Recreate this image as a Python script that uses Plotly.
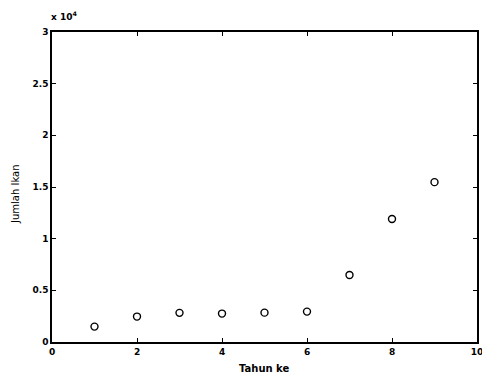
import plotly.graph_objects as go

tahun = [1, 2, 3, 4, 5, 6, 7, 8, 9]
jumlah_ikan = [1490, 2460, 2820, 2750, 2840, 2940, 6480, 11910, 15470]

x_ticks = [0, 2, 4, 6, 8, 10]
y_tickvals = [0, 5000, 10000, 15000, 20000, 25000, 30000]
y_ticktext = ["0", "0.5", "1", "1.5", "2", "2.5", "3"]

FAM = "DejaVu Sans, Liberation Sans, sans-serif"
font = dict(family=FAM, size=9, color="black")

fig = go.Figure()
fig.add_trace(go.Scatter(
    x=tahun, y=jumlah_ikan, mode="markers",
    marker=dict(symbol="circle-open", size=7, color="black", line=dict(width=1.4)),
    showlegend=False,
))

axis_common = dict(
    showline=True, linecolor="black", linewidth=1.5, mirror="ticks",
    ticks="inside", ticklen=4, tickcolor="black", tickwidth=1,
    showgrid=False, zeroline=False, tickfont=font, ticklabeloverflow="allow",
    automargin=False,
)

fig.update_xaxes(range=[0, 10], tickvals=x_ticks,
                 ticktext=["<b>%s</b>" % v for v in x_ticks], **axis_common)
fig.update_yaxes(range=[0, 30000], tickvals=y_tickvals,
                 ticktext=["<b>%s</b>" % t for t in y_ticktext], **axis_common)

fig.add_annotation(xref="paper", yref="paper", x=0.5, y=0, xanchor="center", yanchor="middle",
                   yshift=-26, text="<b>Tahun ke</b>", showarrow=False,
                   font=dict(family=FAM, size=10, color="black"))
fig.add_annotation(xref="paper", yref="paper", x=0, y=0.5, xanchor="center", yanchor="middle",
                   xshift=-37, yshift=-8, textangle=-90, text="Jumlah Ikan", showarrow=False,
                   font=dict(family=FAM, size=10, color="black"))
fig.add_annotation(xref="paper", yref="paper", x=0, y=1, xanchor="left", yanchor="bottom",
                   xshift=-3, yshift=8, text="<b>x 10<sup>4</sup></b>", showarrow=False,
                   font=dict(family=FAM, size=9, color="black"))

fig.update_layout(
    width=482, height=374,
    margin=dict(l=52, r=5, t=32, b=32, autoexpand=False),
    paper_bgcolor="white", plot_bgcolor="white",
)

fig.write_html("out.html", config={"displayModeBar": False},
               post_script="document.body.style.margin='0';document.body.style.overflow='hidden';")
